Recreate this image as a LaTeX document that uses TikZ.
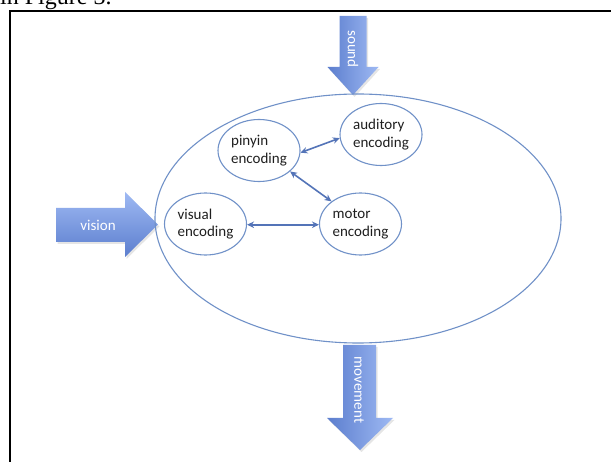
\documentclass[tikz,border=0pt]{standalone}
\usepackage{fontspec}
\newfontfamily\calfont{Carlito}
\newfontfamily\timesfont{Liberation Serif}
\usetikzlibrary{arrows.meta,shapes.geometric}
\definecolor{edgeblue}{RGB}{112,145,200}
\definecolor{linkblue}{RGB}{84,116,184}
\definecolor{arrdark}{RGB}{92,126,206}
\definecolor{arrlight}{RGB}{158,185,243}
\newcommand{\soundpath}{(339.5,16) -- (366.5,16) -- (366.5,67) -- (378.5,67) -- (353,95) -- (327.5,67) -- (339.5,67) -- cycle}
\newcommand{\visionpath}{(56,208) -- (125,208) -- (125,192) -- (158,224.5) -- (125,257) -- (125,242) -- (56,242) -- cycle}
\newcommand{\movepath}{(343,345) -- (376,345) -- (376,418) -- (393,418) -- (360,450) -- (327,418) -- (343,418) -- cycle}
\begin{document}
\begin{tikzpicture}[x=1pt,y=-1pt,
  enc/.style={ellipse, draw=edgeblue, line width=1.1pt, minimum width=82pt,
    minimum height=62pt, inner sep=0pt, align=left,
    font=\calfont\fontsize{15}{17.5}\selectfont, text=black!88},
  link/.style={draw=linkblue, line width=1.6pt,
    {Stealth[length=7pt,width=6.5pt]}-{Stealth[length=7pt,width=6.5pt]}},
  shadowpath/.style={fill=black, opacity=0.10, shift={(1.5,2)}},
  arrtext/.style={font=\calfont\fontsize{15}{17}\selectfont, text=white, inner sep=0pt}
]
\useasboundingbox (0,0) rectangle (611,462);
\clip (0,0) rectangle (611,462);
\fill[white] (0,0) rectangle (611,462);
% cropped caption text
\node[anchor=base west, font=\timesfont\fontsize{24}{28}\selectfont, inner sep=0pt] (caption) at (0,5) {in Figure 3.};
% frame
\draw[line width=2pt] (10,11) rectangle (650,500);
% block arrows
\path[shadowpath] \soundpath;
\path[shadowpath] \visionpath;
\path[shadowpath] \movepath;
\path[left color=arrdark, right color=arrlight] \soundpath;
\path[top color=arrlight, bottom color=arrdark] \visionpath;
\path[left color=arrdark, right color=arrlight] \movepath;
\node[arrtext, rotate=-90] (soundlbl) at (353,49) {sound};
\node[arrtext] (visionlbl) at (98,225) {vision};
\node[arrtext, rotate=-90] (movelbl) at (359,390) {movement};
% system ellipse
\node[ellipse, draw=edgeblue, line width=1.1pt, minimum width=406pt,
  minimum height=249pt, inner sep=0pt] (system) at (358,218.5) {};
% encodings
\node[enc] (pinyin) at (259,150.5) {pinyin\\encoding};
\node[enc] (auditory) at (381,134.5) {auditory\\encoding};
\node[enc] (visual) at (205.5,224) {visual\\encoding};
\node[enc] (motor) at (360.5,224) {motor\\encoding};
% links
\draw[link] (pinyin.-3) -- (auditory.185);
\draw[link] (pinyin.-34) -- (motor.142);
\draw[link] (visual.-1) -- (motor.181);
\end{tikzpicture}
\end{document}
